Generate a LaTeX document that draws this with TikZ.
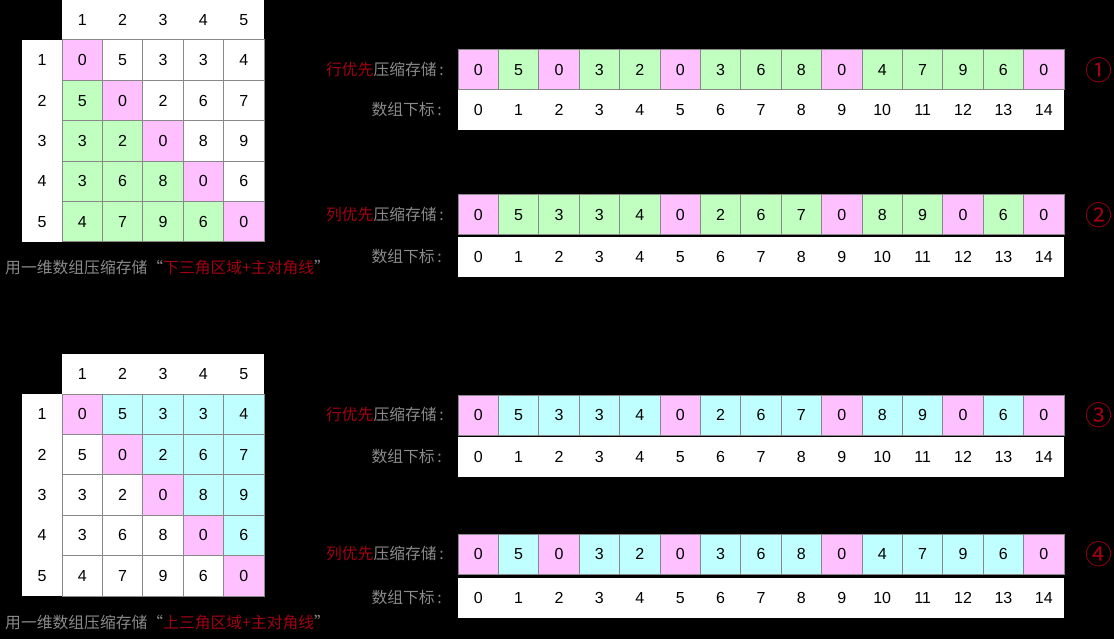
\documentclass[tikz,border=0pt]{standalone}
\usepackage{fontspec}
\setmainfont{Liberation Sans}
\newfontfamily\cjk{Noto Sans CJK SC}
\definecolor{pk}{HTML}{FFC0FF}
\definecolor{gn}{HTML}{C0FFC0}
\definecolor{cy}{HTML}{C0FFFF}
\definecolor{wt}{HTML}{FFFFFF}
\definecolor{bd}{HTML}{888888}
\definecolor{gt}{HTML}{8A8A8A}
\definecolor{rd}{HTML}{A00012}
\newcommand\numfont{\fontsize{16}{16}\selectfont}
\newcommand\cjkfont{\cjk\fontsize{15.8}{15.8}\selectfont}
\begin{document}
\begin{tikzpicture}[x=1pt,y=-1pt,
  cellbox/.style={draw=bd,line width=1pt,minimum width=40.4pt,minimum height=40.4pt,inner sep=0pt,outer sep=0pt,anchor=north west,font=\numfont},
  arrbox/.style={draw=bd,line width=1pt,minimum width=40.4pt,minimum height=40pt,inner sep=0pt,outer sep=0pt,anchor=north west,font=\numfont},
  wbox/.style={fill=white,draw=none,inner sep=0pt,outer sep=0pt,anchor=north west},
  numtxt/.style={inner sep=0pt,font=\numfont},
  lbl/.style={anchor=east,inner sep=0pt,font=\cjkfont,text=gt},
  captxt/.style={anchor=west,inner sep=0pt,font=\cjkfont,text=gt},
  circ/.style={font=\cjk\fontsize{27}{27}\selectfont,text=rd,inner sep=0pt}]
\fill[black] (0,0) rectangle (1114,639);
% ---------- top matrix ----------
\node[wbox,minimum width=202pt,minimum height=40pt] (th) at (62,0) {};
\node[wbox,minimum width=40pt,minimum height=202pt] (tl) at (22,40) {};
\foreach \j in {1,...,5} {
  \node[numtxt] (thn\j) at (62+\j*40.4-20.2,20) {\j};
  \node[numtxt] (tln\j) at (42,40+\j*40.4-20.2) {\j};
}
\foreach \r [count=\i] in {{0/pk,5/wt,3/wt,3/wt,4/wt},{5/gn,0/pk,2/wt,6/wt,7/wt},{3/gn,2/gn,0/pk,8/wt,9/wt},{3/gn,6/gn,8/gn,0/pk,6/wt},{4/gn,7/gn,9/gn,6/gn,0/pk}} {
  \foreach \v/\c [count=\j] in \r {
    \node[cellbox,fill=\c] (tm\i\j) at (62+\j*40.4-40.4,40+\i*40.4-40.4) {\v};
  }
}
\node[captxt] (tcap) at (5,268) {用一维数组压缩存储“{\color{rd}下三角区域+主对角线}”};
% ---------- bottom matrix ----------
\node[wbox,minimum width=202pt,minimum height=40pt] (bh) at (62,354) {};
\node[wbox,minimum width=40pt,minimum height=202pt] (bl) at (22,394) {};
\foreach \j in {1,...,5} {
  \node[numtxt] (bhn\j) at (62+\j*40.4-20.2,374) {\j};
  \node[numtxt] (bln\j) at (42,394+\j*40.4-20.2) {\j};
}
\foreach \r [count=\i] in {{0/pk,5/cy,3/cy,3/cy,4/cy},{5/wt,0/pk,2/cy,6/cy,7/cy},{3/wt,2/wt,0/pk,8/cy,9/cy},{3/wt,6/wt,8/wt,0/pk,6/cy},{4/wt,7/wt,9/wt,6/wt,0/pk}} {
  \foreach \v/\c [count=\j] in \r {
    \node[cellbox,fill=\c] (bm\i\j) at (62+\j*40.4-40.4,394+\i*40.4-40.4) {\v};
  }
}
\node[captxt] (bcap) at (5,622) {用一维数组压缩存储“{\color{rd}上三角区域+主对角线}”};
% ---------- arrays ----------
\foreach \n/\ya/\yi/\name/\num/\data in {
  1/50/90/行/①/{0/pk,5/gn,0/pk,3/gn,2/gn,0/pk,3/gn,6/gn,8/gn,0/pk,4/gn,7/gn,9/gn,6/gn,0/pk},
  2/195/237/列/②/{0/pk,5/gn,3/gn,3/gn,4/gn,0/pk,2/gn,6/gn,7/gn,0/pk,8/gn,9/gn,0/pk,6/gn,0/pk},
  3/395/437/行/③/{0/pk,5/cy,3/cy,3/cy,4/cy,0/pk,2/cy,6/cy,7/cy,0/pk,8/cy,9/cy,0/pk,6/cy,0/pk},
  4/534/578/列/④/{0/pk,5/cy,0/pk,3/cy,2/cy,0/pk,3/cy,6/cy,8/cy,0/pk,4/cy,7/cy,9/cy,6/cy,0/pk}} {
  \node[wbox,minimum width=606pt,minimum height=40pt] (ix\n) at (458,\yi) {};
  \foreach \v/\c [count=\k from 0] in \data {
    \node[arrbox,fill=\c] (a\n-\k) at (458+\k*40.4,\ya) {\v};
    \node[numtxt] (i\n-\k) at (458+\k*40.4+20.2,\yi+20) {\k};
  }
  \node[lbl] (la\n) at (444,\ya+20) {{\color{rd}\name 优先}压缩存储\,:};
  \node[lbl] (li\n) at (442,\yi+20) {数组下标\,:};
  \node[circ] (c\n) at (1099,\ya+20) {\num};
}
\end{tikzpicture}
\end{document}
